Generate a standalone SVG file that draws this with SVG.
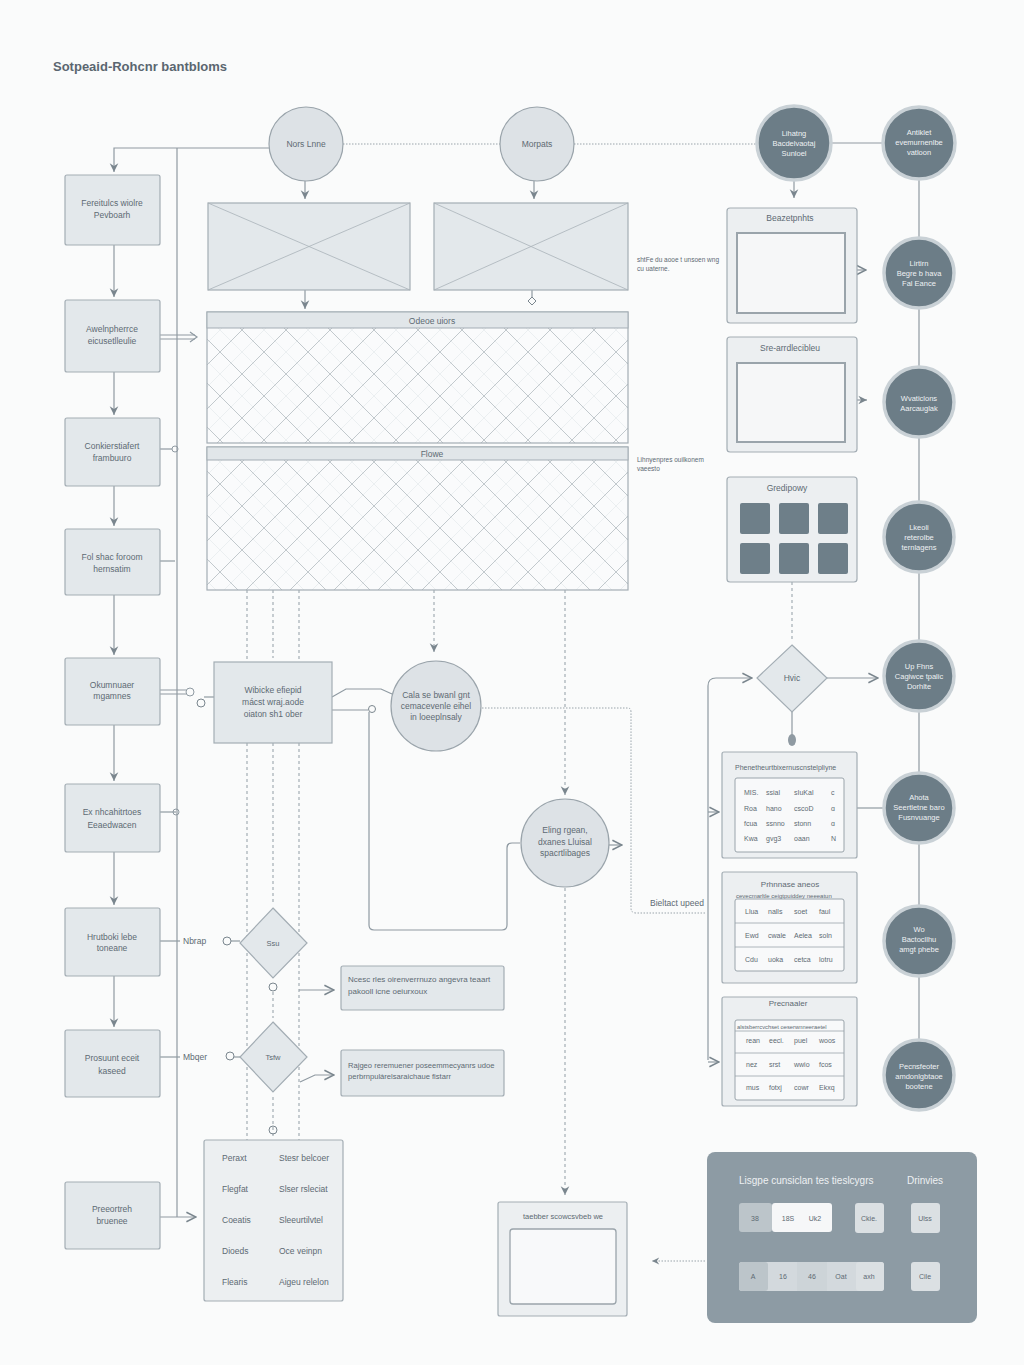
<svg xmlns="http://www.w3.org/2000/svg" width="1024" height="1365" viewBox="0 0 1024 1365">
<defs>
<style>
text{font-family:"Liberation Sans",Arial,sans-serif;fill:#5d6a73;font-size:8.5px}
.t{text-anchor:middle}
.w{fill:#eef1f3;font-size:7.5px}
.box{fill:#e3e8eb;stroke:#a3adb4;stroke-width:1.2}
.pan{fill:#eceff1;stroke:#a3adb4;stroke-width:1.2}
.inner{fill:#f6f7f8;stroke:#9aa4ab;stroke-width:2}
.lc{fill:#dde2e6;stroke:#9aa4ab;stroke-width:1.2}
.dc{fill:#6c7d87;stroke:#c9d1d6;stroke-width:3.5}
.ln{fill:none;stroke:#8f9aa2;stroke-width:1.2}
.dl{fill:none;stroke:#a3adb4;stroke-width:1.2;stroke-dasharray:3 3}
.dt{fill:none;stroke:#9aa4ab;stroke-width:1;stroke-dasharray:1.5 1.5}
.tb{fill:#f8f9fa;stroke:#9aa4ab;stroke-width:1}
</style>
<marker id="a" viewBox="0 0 10 10" refX="9" refY="5" markerWidth="9" markerHeight="9" orient="auto-start-reverse"><path d="M1,1 L9,5 L1,9 L3.5,5 Z" fill="#7a868e"/></marker>
<marker id="o" viewBox="0 0 10 10" refX="9" refY="5" markerWidth="10" markerHeight="10" orient="auto-start-reverse"><path d="M1,1 L9,5 L1,9" fill="none" stroke="#7a868e" stroke-width="1.3"/></marker>
<pattern id="h" width="44" height="44" patternUnits="userSpaceOnUse"><rect width="44" height="44" fill="#fafbfc"/><path d="M0,0 L44,44 M44,0 L0,44" stroke="#b4bcc2" stroke-width="0.8"/><path d="M22,0 L44,22 L22,44 L0,22 Z" stroke="#dde2e6" stroke-width="0.5" fill="none"/></pattern>
</defs>
<rect width="1024" height="1365" fill="#fafbfb"/>
<text x="53" y="71" style="font-size:13px;font-weight:bold;fill:#5a6670">Sotpeaid-Rohcnr bantbloms</text>

<g id="connectors">
<path class="ln" d="M177,148 V1217"/>
<path class="ln" d="M269,148 H114 V172" marker-end="url(#a)"/>
<path class="ln" d="M114,245 V297" marker-end="url(#a)"/>
<path class="ln" d="M114,372 V415" marker-end="url(#a)"/>
<path class="ln" d="M114,486 V526" marker-end="url(#a)"/>
<path class="ln" d="M114,595 V655" marker-end="url(#a)"/>
<path class="ln" d="M114,725 V781" marker-end="url(#a)"/>
<path class="ln" d="M114,852 V905" marker-end="url(#a)"/>
<path class="ln" d="M114,976 V1027" marker-end="url(#a)"/>
<path class="ln" d="M160,335 H195 M160,339 H195" /><path class="ln" d="M190,332 L197,337 L190,342"/>
<path class="ln" d="M160,449 H172"/><circle cx="175" cy="449" r="3" fill="none" stroke="#8f9aa2"/>
<path class="ln" d="M160,561 H175"/>
<path class="ln" d="M160,690 H186 M160,694 H186"/><circle cx="190" cy="692" r="4" fill="none" stroke="#8f9aa2"/>
<path class="ln" d="M160,812 H176"/><circle cx="176" cy="812" r="3" fill="none" stroke="#8f9aa2"/>
<path class="ln" d="M160,941 H180"/>
<path class="ln" d="M160,1057 H180"/>
<path class="ln" d="M160,1217 H196" marker-end="url(#o)"/>
<path class="dt" d="M343,144 H500 M574,144 H757"/>
<path class="ln" d="M831,143 H882"/>
<path class="ln" d="M919,180 V1040"/>
<path class="ln" d="M305,181 V199" marker-end="url(#a)"/>
<path class="ln" d="M534,181 V199" marker-end="url(#a)"/>
<path class="ln" d="M794,181 V198" marker-end="url(#a)"/>
<path class="ln" d="M305,290 V309" marker-end="url(#a)"/>
<path class="ln" d="M532,290 V298"/><path d="M532,297 l4,4 l-4,4 l-4,-4 Z" fill="none" stroke="#7a868e"/>
<path class="ln" d="M857,270 H866" marker-end="url(#o)"/>
<path class="ln" d="M857,400 H867" marker-end="url(#a)"/>
<path class="dl" d="M247,590 V662 M273,590 V658 M299,590 V662"/>
<path class="dl" d="M247,743 V1140 M299,743 V1140"/>
<path class="dl" d="M273,743 V905 M273,992 V1018 M273,1097 V1136"/>
<path class="dl" d="M434,590 V652" marker-end="url(#a)"/>
<path class="dl" d="M565,590 V795" marker-end="url(#a)"/>
<path class="dl" d="M565,888 V1195" marker-end="url(#a)"/>
<path class="dl" d="M792,582 V640"/>
<path class="dt" d="M482,708 H628 Q631,708 631,712 V908 Q631,913 636,913 H706"/>
<path class="ln" d="M214,697 H204"/><circle cx="201" cy="703" r="4" fill="none" stroke="#7a868e"/>
<path class="ln" d="M332,697 L346,689 H381 L392,694"/>
<path class="ln" d="M332,710 H368"/><circle cx="372" cy="709" r="3.5" fill="none" stroke="#7a868e"/>
<path class="ln" d="M369,712 V925 Q369,930 374,930 H502 Q507,930 507,925 V848 Q507,843 512,843 H520"/>
<path class="ln" d="M609,845 H622" marker-end="url(#o)"/>
<path class="ln" d="M240,941 H231"/><circle cx="227" cy="941" r="4" fill="none" stroke="#7a868e"/>
<circle cx="273" cy="987" r="4" fill="none" stroke="#7a868e"/>
<path class="ln" d="M240,1057 H234"/><circle cx="230" cy="1056" r="4" fill="none" stroke="#7a868e"/>
<circle cx="273" cy="1130" r="4" fill="none" stroke="#7a868e"/>
<path class="ln" d="M299,990 H334" marker-end="url(#o)"/>
<path class="ln" d="M300,1082 L315,1075 H334" marker-end="url(#o)"/>
<path class="ln" d="M708,1060 V686 Q708,678 716,678 H752" marker-end="url(#o)"/>
<path class="ln" d="M708,812 H719" marker-end="url(#o)"/>
<path class="ln" d="M708,1062 H719" marker-end="url(#o)"/>
<path class="ln" d="M827,678 H878" marker-end="url(#o)"/>
<path class="ln" d="M792,712 V735"/><ellipse cx="792" cy="740" rx="4" ry="6" fill="#8f9aa2"/>
<path class="ln" d="M857,808 H884"/>
<path class="dt" d="M705,1261 H652" marker-end="url(#a)"/>
</g>

<g id="n-nors"><circle class="lc" cx="306" cy="144" r="37"/><text class="t" x="306" y="147">Nors Lnne</text></g>
<g id="n-morpats"><circle class="lc" cx="537" cy="144" r="37"/><text class="t" x="537" y="147">Morpats</text></g>
<g id="n-lihatng"><circle class="dc" cx="794" cy="143" r="37"/><text class="t w" x="794" y="136">Lihatng</text><text class="t w" x="794" y="146">Bacdelvaotaj</text><text class="t w" x="794" y="156">Sunloel</text></g>

<g id="c1"><circle class="dc" cx="919" cy="143" r="36"/><text class="t w" x="919" y="135">Antiklet</text><text class="t w" x="919" y="145">evemurnenlbe</text><text class="t w" x="919" y="155">vatloon</text></g>
<g id="c2"><circle class="dc" cx="919" cy="273" r="35"/><text class="t w" x="919" y="266">Lirtirn</text><text class="t w" x="919" y="276">Begre b hava</text><text class="t w" x="919" y="286">Fal Eance</text></g>
<g id="c3"><circle class="dc" cx="919" cy="402" r="35"/><text class="t w" x="919" y="401">Wvaticlons</text><text class="t w" x="919" y="411">Aarcauglak</text></g>
<g id="c4"><circle class="dc" cx="919" cy="537" r="35"/><text class="t w" x="919" y="530">Lkeoli</text><text class="t w" x="919" y="540">reterolbe</text><text class="t w" x="919" y="550">ternlagens</text></g>
<g id="c5"><circle class="dc" cx="919" cy="676" r="35"/><text class="t w" x="919" y="669">Up Fhns</text><text class="t w" x="919" y="679">Cagiwce tpalic</text><text class="t w" x="919" y="689">Dorhlte</text></g>
<g id="c6"><circle class="dc" cx="919" cy="808" r="35"/><text class="t w" x="919" y="800">Ahota</text><text class="t w" x="919" y="810">Seertletne baro</text><text class="t w" x="919" y="820">Fusnvuange</text></g>
<g id="c7"><circle class="dc" cx="919" cy="941" r="35"/><text class="t w" x="919" y="932">Wo</text><text class="t w" x="919" y="942">Bactocllhu</text><text class="t w" x="919" y="952">amgt phebe</text></g>
<g id="c8"><circle class="dc" cx="919" cy="1075" r="35"/><text class="t w" x="919" y="1069">Pecnsfeoter</text><text class="t w" x="919" y="1079">amdonlgbtaoe</text><text class="t w" x="919" y="1089">bootene</text></g>

<g id="b1"><rect class="box" x="65" y="175" width="95" height="70" rx="2"/><text class="t" x="112" y="206">Fereitulcs wiolre</text><text class="t" x="112" y="218">Pevboarh</text></g>
<g id="b2"><rect class="box" x="65" y="300" width="95" height="72" rx="2"/><text class="t" x="112" y="332">Awelnpherrce</text><text class="t" x="112" y="344">eicusetlleulie</text></g>
<g id="b3"><rect class="box" x="65" y="418" width="95" height="68" rx="2"/><text class="t" x="112" y="449">Conkierstiafert</text><text class="t" x="112" y="461">frambuuro</text></g>
<g id="b4"><rect class="box" x="65" y="529" width="95" height="66" rx="2"/><text class="t" x="112" y="560">Fol shac foroom</text><text class="t" x="112" y="572">hernsatim</text></g>
<g id="b5"><rect class="box" x="65" y="658" width="95" height="67" rx="2"/><text class="t" x="112" y="688">Okumnuaer</text><text class="t" x="112" y="699">mgamnes</text></g>
<g id="b6"><rect class="box" x="65" y="784" width="95" height="68" rx="2"/><text class="t" x="112" y="815">Ex nhcahitrtoes</text><text class="t" x="112" y="828">Eeaedwacen</text></g>
<g id="b7"><rect class="box" x="65" y="908" width="95" height="68" rx="2"/><text class="t" x="112" y="940">Hrutboki lebe</text><text class="t" x="112" y="951">toneane</text></g>
<g id="b8"><rect class="box" x="65" y="1030" width="95" height="67" rx="2"/><text class="t" x="112" y="1061">Prosuunt eceit</text><text class="t" x="112" y="1074">kaseed</text></g>
<g id="b9"><rect class="box" x="65" y="1182" width="95" height="67" rx="2"/><text class="t" x="112" y="1212">Preeortreh</text><text class="t" x="112" y="1224">bruenee</text></g>
<text x="183" y="944">Nbrap</text>
<text x="183" y="1060">Mbqer</text>

<g id="imgA"><rect class="box" x="208" y="203" width="202" height="87"/><path d="M208,203 L410,290 M410,203 L208,290" stroke="#aab3b9" stroke-width="0.8"/></g>
<g id="imgB"><rect class="box" x="434" y="203" width="194" height="87"/><path d="M434,203 L628,290 M628,203 L434,290" stroke="#aab3b9" stroke-width="0.8"/></g>

<g id="panel1"><rect x="207" y="312" width="421" height="131" fill="url(#h)" stroke="#a3adb4" stroke-width="1.2"/><rect x="207" y="312" width="421" height="16" fill="#e1e6e9" stroke="#a3adb4" stroke-width="1"/><text class="t" x="432" y="324">Odeoe uiors</text></g>
<g id="panel2"><rect x="207" y="447" width="421" height="143" fill="url(#h)" stroke="#a3adb4" stroke-width="1.2"/><rect x="207" y="447" width="421" height="13" fill="#e1e6e9" stroke="#a3adb4" stroke-width="1"/><text class="t" x="432" y="457">Flowe</text></g>
<text x="637" y="262" style="font-size:6.5px">shtFe du aooe t unsoen wng</text>
<text x="637" y="271" style="font-size:6.5px">cu uaterne.</text>
<text x="637" y="462" style="font-size:6.5px">Lihnyenpres ouilkonem</text>
<text x="637" y="471" style="font-size:6.5px">vaeesto</text>

<g id="r1"><rect class="pan" x="727" y="208" width="130" height="115" rx="3"/><text class="t" x="790" y="221">Beazetpnhts</text><rect class="inner" x="737" y="233" width="108" height="80"/></g>
<g id="r2"><rect class="pan" x="727" y="337" width="130" height="115" rx="3"/><text class="t" x="790" y="351">Sre-arrdlecibleu</text><rect class="inner" x="737" y="363" width="108" height="79"/></g>
<g id="r3"><rect class="pan" x="727" y="477" width="130" height="105" rx="3"/><text class="t" x="787" y="491">Gredipowy</text>
<rect x="740" y="503" width="30" height="31" rx="2" fill="#6e7f89"/><rect x="779" y="503" width="30" height="31" rx="2" fill="#6e7f89"/><rect x="818" y="503" width="30" height="31" rx="2" fill="#6e7f89"/>
<rect x="740" y="543" width="30" height="31" rx="2" fill="#6e7f89"/><rect x="779" y="543" width="30" height="31" rx="2" fill="#6e7f89"/><rect x="818" y="543" width="30" height="31" rx="2" fill="#6e7f89"/></g>

<g id="dHvic"><path class="box" d="M792,645 L827,678 L792,712 L757,678 Z"/><text class="t" x="792" y="681">Hvic</text></g>

<g id="t1"><rect class="pan" x="722" y="752" width="135" height="106" rx="2"/><text x="735" y="770" style="font-size:7px">Phenetheurtbixernuscnstelpliyne</text><rect class="tb" x="735" y="778" width="109" height="74" rx="2"/>
<text x="744" y="795" style="font-size:7px">MIS.</text><text x="766" y="795" style="font-size:7px">ssial</text><text x="794" y="795" style="font-size:7px">sIuKal</text><text x="831" y="795" style="font-size:7px">c</text>
<text x="744" y="811" style="font-size:7px">Roa</text><text x="766" y="811" style="font-size:7px">hano</text><text x="794" y="811" style="font-size:7px">cscoD</text><text x="831" y="811" style="font-size:7px">ɑ</text>
<text x="744" y="826" style="font-size:7px">fcua</text><text x="766" y="826" style="font-size:7px">ssnno</text><text x="794" y="826" style="font-size:7px">stonn</text><text x="831" y="826" style="font-size:7px">ɑ</text>
<text x="744" y="841" style="font-size:7px">Kwa</text><text x="766" y="841" style="font-size:7px">gvg3</text><text x="794" y="841" style="font-size:7px">oaan</text><text x="831" y="841" style="font-size:7px">N</text></g>

<g id="t2"><rect class="pan" x="722" y="872" width="135" height="111" rx="2"/><text class="t" x="790" y="887" style="font-size:8px">Prhnnase aneos</text><text x="736" y="898" style="font-size:6px">cevecmarltle ceigtpuiddey neeeatun</text><rect class="tb" x="735" y="899" width="109" height="72" rx="2"/><path d="M735,923 H844 M735,947 H844" stroke="#9aa4ab" stroke-width="0.8"/>
<text x="745" y="914" style="font-size:7px">Llua</text><text x="768" y="914" style="font-size:7px">nalls</text><text x="794" y="914" style="font-size:7px">soet</text><text x="819" y="914" style="font-size:7px">faul</text>
<text x="745" y="938" style="font-size:7px">Ewd</text><text x="768" y="938" style="font-size:7px">cwale</text><text x="794" y="938" style="font-size:7px">Aelea</text><text x="819" y="938" style="font-size:7px">soln</text>
<text x="745" y="962" style="font-size:7px">Cdu</text><text x="768" y="962" style="font-size:7px">uoka</text><text x="794" y="962" style="font-size:7px">cetca</text><text x="819" y="962" style="font-size:7px">lotru</text></g>

<g id="t3"><rect class="pan" x="722" y="997" width="135" height="109" rx="2"/><text class="t" x="788" y="1006" style="font-size:8px">Precnaaler</text><rect class="tb" x="735" y="1020" width="109" height="80" rx="2"/><text x="737" y="1029" style="font-size:5.8px">alstsberrcvchset oeserwnneeraetel</text><path d="M735,1031 H844 M735,1053 H844 M735,1076 H844" stroke="#9aa4ab" stroke-width="0.8"/>
<text x="746" y="1043" style="font-size:7px">rean</text><text x="769" y="1043" style="font-size:7px">eeci.</text><text x="794" y="1043" style="font-size:7px">puel</text><text x="819" y="1043" style="font-size:7px">woos</text>
<text x="746" y="1067" style="font-size:7px">nez</text><text x="769" y="1067" style="font-size:7px">srst</text><text x="794" y="1067" style="font-size:7px">wwio</text><text x="819" y="1067" style="font-size:7px">fcos</text>
<text x="746" y="1090" style="font-size:7px">mus</text><text x="769" y="1090" style="font-size:7px">fotxj</text><text x="794" y="1090" style="font-size:7px">cowr</text><text x="819" y="1090" style="font-size:7px">Ekxq</text></g>
<text x="650" y="906">Bieltact upeed</text>

<g id="nWib"><rect class="box" x="214" y="662" width="118" height="81"/><text class="t" x="273" y="693">Wibicke efiepid</text><text class="t" x="273" y="705">mácst wraj.aode</text><text class="t" x="273" y="717">oiaton sh1 ober</text></g>
<g id="nCala"><circle class="lc" cx="436" cy="706" r="45"/><text class="t" x="436" y="698">Cala se bwanl gnt</text><text class="t" x="436" y="709">cemacevenle eihel</text><text class="t" x="436" y="720">in loeeplnsaly</text></g>
<g id="nEling"><circle class="lc" cx="565" cy="843" r="44"/><text class="t" x="565" y="833">Eling rgean,</text><text class="t" x="565" y="845">dxanes Lluisal</text><text class="t" x="565" y="856">spacrtlibages</text></g>

<g id="dSsu"><path class="box" d="M273,908 L307,943 L273,978 L240,943 Z"/><text class="t" x="273" y="946" style="font-size:7.5px">Ssu</text></g>
<g id="dTsfw"><path class="box" d="M273,1022 L307,1057 L273,1092 L240,1057 Z"/><text class="t" x="273" y="1060" style="font-size:7.5px">Tsfw</text></g>

<g id="note1"><rect class="box" x="341" y="966" width="163" height="44" rx="2"/><text x="348" y="982" style="font-size:8px">Ncesc rles oirenverrnuzo angevra teaart</text><text x="348" y="994" style="font-size:8px">pakooll icne oeiurxoux</text></g>
<g id="note2"><rect class="box" x="341" y="1050" width="163" height="46" rx="2"/><text x="348" y="1068" style="font-size:7.6px">Rajgeo reremuener poseemmecyanrs udoe</text><text x="348" y="1079" style="font-size:7.6px">perbrnpulárelsaraichaue fistarr</text></g>

<g id="tblL"><rect class="pan" x="204" y="1140" width="139" height="161" rx="2"/>
<text x="222" y="1161">Peraxt</text><text x="279" y="1161">Stesr belcoer</text>
<text x="222" y="1192">Flegfat</text><text x="279" y="1192">Slser rsleciat</text>
<text x="222" y="1223">Coeatis</text><text x="279" y="1223">Sleeurtilvtel</text>
<text x="222" y="1254">Dioeds</text><text x="279" y="1254">Oce veinpn</text>
<text x="222" y="1285">Flearis</text><text x="279" y="1285">Aigeu relelon</text></g>

<g id="bview"><rect class="pan" x="498" y="1202" width="129" height="114" rx="2"/><text class="t" x="563" y="1219" style="font-size:7.5px">taebber scowcsvbeb we</text><rect class="tb" x="510" y="1229" width="106" height="75" rx="3" style="stroke-width:1.3"/></g>

<g id="legend"><rect x="707" y="1152" width="270" height="171" rx="8" fill="#8d9ba4"/>
<text x="739" y="1184" style="font-size:10px;fill:#eef1f3">Lisgpe cunsiclan tes tieslcygrs</text><text x="907" y="1184" style="font-size:10px;fill:#eef1f3">Drinvies</text>
<rect x="739" y="1203" width="33" height="29" rx="3" fill="#bcc5ca"/><rect x="772" y="1203" width="60" height="29" rx="3" fill="#f6f7f8"/>
<text class="t" x="755" y="1221" style="font-size:7px">38</text><text class="t" x="788" y="1221" style="font-size:7px">18S</text><text class="t" x="815" y="1221" style="font-size:7px">Uk2</text>
<rect x="855" y="1203" width="29" height="30" rx="3" fill="#dbe0e3"/><text class="t" x="869" y="1221" style="font-size:7px">Ckie.</text>
<rect x="911" y="1203" width="29" height="30" rx="3" fill="#dbe0e3"/><text class="t" x="925" y="1221" style="font-size:7px">Ulss</text>
<rect x="739" y="1262" width="145" height="29" rx="3" fill="#d3d9dd"/><rect x="739" y="1262" width="29" height="29" rx="3" fill="#bcc5ca"/><rect x="797" y="1262" width="30" height="29" fill="#cdd4d8"/><rect x="856" y="1262" width="28" height="29" rx="3" fill="#dbe0e3"/>
<text class="t" x="753" y="1279" style="font-size:7px">A</text><text class="t" x="783" y="1279" style="font-size:7px">16</text><text class="t" x="812" y="1279" style="font-size:7px">46</text><text class="t" x="841" y="1279" style="font-size:7px">Oat</text><text class="t" x="869" y="1279" style="font-size:7px">axh</text>
<rect x="911" y="1262" width="29" height="29" rx="3" fill="#dbe0e3"/><text class="t" x="925" y="1279" style="font-size:7px">Cile</text></g>
</svg>
